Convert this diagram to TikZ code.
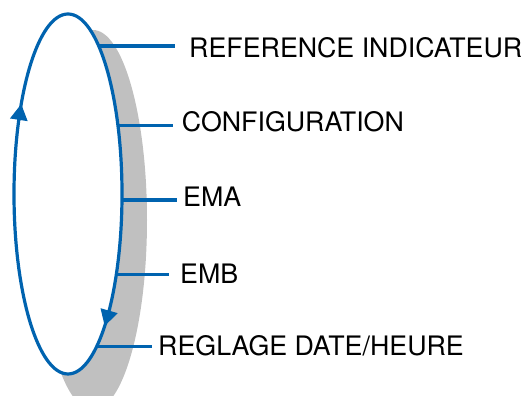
\documentclass[tikz,border=0pt]{standalone}
\usepackage{fontspec}
\setmainfont{TeX Gyre Heros}
\usetikzlibrary{arrows.meta,calc}
\definecolor{cycblue}{RGB}{0,99,175}
\definecolor{shadowgray}{RGB}{192,192,192}
\begin{document}
\begin{tikzpicture}[x=1pt,y=1pt,
  conn/.style={cycblue, line width=3.2pt},
  lab/.style={anchor=west, inner ysep=0pt, text height=19.2pt, text depth=0pt,
    font=\fontsize{26.8}{30}\selectfont},
  tipmark/.style={cycblue, line width=3.2pt, -{Triangle[length=16pt,width=17pt]}}]
\useasboundingbox (0,0) rectangle (525,396);
\clip (0,0) rectangle (525,396);
% shadow
\fill[shadowgray] (93,176) ellipse [x radius=54, y radius=190];
% cycle ellipse
\coordinate (c) at (68,202);
\draw[cycblue, line width=3.2pt, fill=white] (c) ellipse [x radius=54, y radius=180];
% arrow heads on the cycle
\coordinate (a1b) at ($(c)+(155.9:54 and 180)$);
\coordinate (a1t) at ($(c)+(150:54 and 180)$);
\coordinate (a2b) at ($(c)+(-40.5:54 and 180)$);
\coordinate (a2t) at ($(c)+(-47.2:54 and 180)$);
\draw[tipmark] (a1b) -- (a1t);
\draw[tipmark] (a2b) -- (a2t);
% connector start points on the ellipse
\coordinate (e1) at ($(c)+(55.3:54 and 180)$);
\coordinate (e2) at ($(c)+(22.4:54 and 180)$);
\coordinate (e3) at ($(c)+(-1.9:54 and 180)$);
\coordinate (e4) at ($(c)+(-26.7:54 and 180)$);
\coordinate (e5) at ($(c)+(-57.9:54 and 180)$);
% labels
\node[lab, inner xsep=14pt] (l1) at (175,348.5) {REFERENCE INDICATEUR};
\node[lab, inner xsep=8.7pt] (l2) at (173,274.3) {CONFIGURATION};
\node[lab, inner xsep=6pt] (l3) at (177,199) {EMA};
\node[lab, inner xsep=11pt] (l4) at (169,122) {EMB};
\node[lab, inner xsep=6pt] (l5) at (152,50) {REGLAGE DATE/HEURE};
% connectors
\draw[conn] (e1) -- (e1 -| l1.west);
\draw[conn] (e2) -- (e2 -| l2.west);
\draw[conn] (e3) -- (e3 -| l3.west);
\draw[conn] (e4) -- (e4 -| l4.west);
\draw[conn] (e5) -- (e5 -| l5.west);
\end{tikzpicture}
\end{document}
